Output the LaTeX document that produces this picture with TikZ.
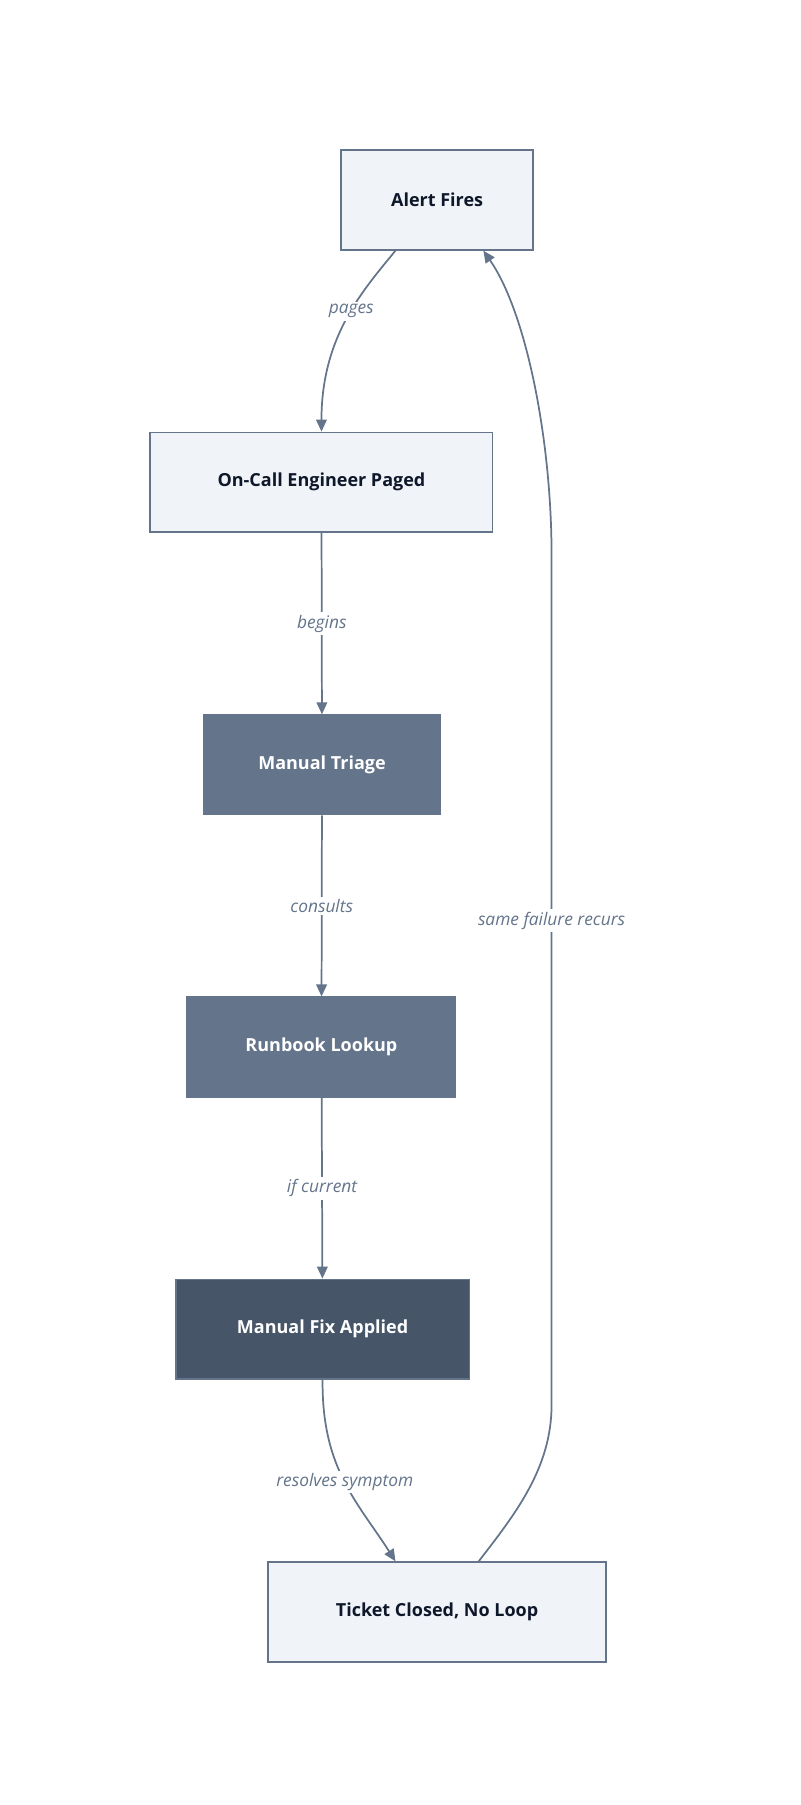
\documentclass[tikz,border=0pt]{standalone}
\usepackage{fontspec}
\setmainfont{Open Sans}
\usetikzlibrary{arrows.meta}
\definecolor{edge}{HTML}{64748B}
\definecolor{lightf}{HTML}{F0F4F9}
\definecolor{darkf}{HTML}{475569}
\definecolor{txt}{HTML}{0F172A}
\begin{document}
\begin{tikzpicture}[x=0.867pt,y=-0.867pt,
  box/.style={draw=edge,line width=1.3pt,minimum height=86*0.867pt,font=\bfseries\fontsize{13.5}{16}\selectfont,inner sep=0pt},
  lite/.style={box,fill=lightf,text=txt},
  mid/.style={box,fill=edge,text=white},
  dark/.style={box,fill=darkf,text=white},
  conn/.style={draw=edge,line width=1.3pt,-{Triangle[length=9pt,width=8pt]}},
  lbl/.style={fill=white,text=edge,font=\itshape\fontsize{13}{15}\selectfont,inner sep=2pt}]
\useasboundingbox (0,0) rectangle (692,1561);
\node[lite,minimum width=166*0.867pt] (a) at (378,173) {Alert Fires};
\node[lite,minimum width=296*0.867pt] (b) at (278,417) {On-Call Engineer Paged};
\node[mid,minimum width=205*0.867pt] (c) at (278.5,661.5) {Manual Triage};
\node[mid,minimum width=232*0.867pt] (d) at (278,905.5) {Runbook Lookup};
\node[dark,minimum width=254*0.867pt] (e) at (279,1149.5) {Manual Fix Applied};
\node[lite,minimum width=292*0.867pt] (f) at (378,1394) {Ticket Closed, No Loop};
\draw[conn] (a.south -| 342,0) .. controls (315,250) and (278,290) .. node[lbl,pos=0.45]{pages} (b.north);
\draw[conn] (b) -- node[lbl]{begins} (c);
\draw[conn] (c) -- node[lbl]{consults} (d);
\draw[conn] (d) -- node[lbl]{if current} (e);
\draw[conn] (e.south) .. controls (278,1270) and (310,1300) .. node[lbl,pos=0.5]{resolves symptom} (f.north -| 342,0);
\coordinate (l1) at (477,1215);
\coordinate (l2) at (477,480);
\draw[conn] (f.north -| 414,0) .. controls (445,1310) and (477,1270) .. (l1) -- node[lbl,pos=0.57]{same failure recurs} (l2) .. controls (477,380) and (455,270) .. (a.south -| 418,0);
\end{tikzpicture}
\end{document}
